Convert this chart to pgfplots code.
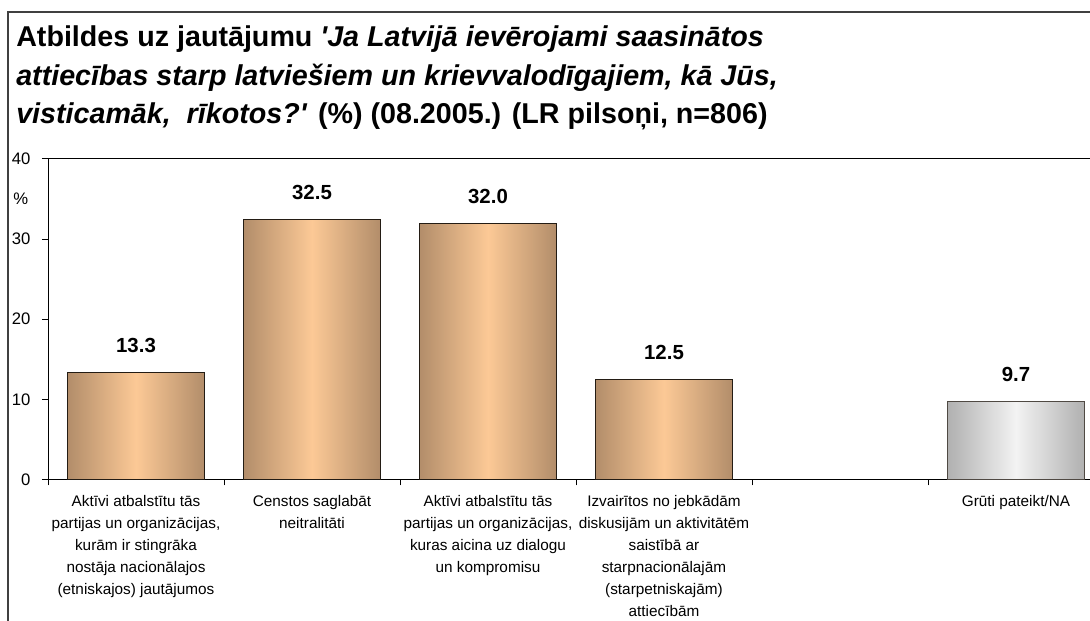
\documentclass[border=0pt]{standalone}
\usepackage{fontspec}
\setmainfont{Liberation Sans}[Ligatures=TeXOff]
\usepackage{pgfplots}
\pgfplotsset{compat=1.18}
\definecolor{tanD}{RGB}{178,141,106}
\definecolor{tanL}{RGB}{252,201,150}
\definecolor{grD}{RGB}{176,176,176}
\definecolor{grL}{RGB}{243,243,243}
\definecolor{frameC}{RGB}{64,64,64}
\definecolor{barEdge}{RGB}{35,28,20}
\tikzset{
    tanbar/.style={bar shift=0pt, draw=barEdge, line width=0.75pt,
        left color=tanD, right color=tanD, middle color=tanL},
    graybar/.style={bar shift=0pt, draw=barEdge!80, line width=0.75pt,
        left color=grD, right color=grD, middle color=grL},
}

\begin{document}
\begin{tikzpicture}
% 1 px of the reference = 0.75pt
\path[use as bounding box] (0,0) rectangle (817.5pt,465.75pt);
\clip (0,0) rectangle (817.5pt,465.75pt);
\fill[white] (0,0) rectangle (817.5pt,465.75pt);

\begin{axis}[
    at={(36pt,106.125pt)}, anchor=south west,
    scale only axis, width=792pt, height=240.375pt,
    xmin=-0.5, xmax=5.5, ymin=0, ymax=40,
    ybar, bar width=0.78,
    axis line style={black, line width=0.75pt},
    tick style={black, line width=0.75pt},
    tick align=outside, major tick length=4.5pt,
    xtick pos=lower, ytick pos=left,
    xtick={-0.5,0.5,1.5,2.5,3.5,4.5,5.5}, xticklabels={},
    extra x ticks={0,1,2,3,4,5},
    extra x tick labels={
        {Aktīvi atbalstītu tās\\partijas un organizācijas,\\kurām ir stingrāka\\nostāja nacionālajos\\(etniskajos) jautājumos},
        {Censtos saglabāt\\neitralitāti},
        {Aktīvi atbalstītu tās\\partijas un organizācijas,\\kuras aicina uz dialogu\\un kompromisu},
        {Izvairītos no jebkādām\\diskusijām un aktivitātēm\\saistībā ar\\starpnacionālajām\\(starpetniskajām)\\attiecībām},
        {},
        {Grūti pateikt/NA}},
    extra x tick style={major tick length=0pt,
        tick label style={anchor=north, inner sep=0pt, yshift=-12pt, align=center,
            font=\fontsize{11.5}{16.4}\selectfont}},
    ytick={0,10,20,30,40},
    yticklabel style={font=\fontsize{12.5}{14}\selectfont, anchor=east, inner sep=0pt, xshift=-8.5pt},
    /pgf/number format/assume math mode=true,
    nodes near coords={\pgfmathprintnumber[fixed,fixed zerofill,precision=1]{\pgfplotspointmeta}},
    every node near coord/.append style={anchor=base, inner sep=0pt, yshift=15pt,
        font=\bfseries\fontsize{15.3}{18}\selectfont, black},
]
\addplot[tanbar] coordinates {(0,13.3)};
\addplot[tanbar] coordinates {(1,32.5)};
\addplot[tanbar] coordinates {(2,32.0)};
\addplot[tanbar] coordinates {(3,12.5)};
\addplot[graybar] coordinates {(5,9.7)};
\end{axis}

\node[anchor=base west, inner sep=0pt, font=\fontsize{12.5}{14}\selectfont] at (9.75pt,312pt) {\%};

\begin{scope}[every node/.style={anchor=base west, inner sep=0pt, font=\bfseries\fontsize{21.5}{28}\selectfont}]
\node at (12pt,430.5pt) {Atbildes uz jautājumu \textit{'Ja Latvijā ievērojami saasinātos}};
\node at (12pt,401.25pt) {\textit{attiecības starp latviešiem un krievvalodīgajiem, kā Jūs,}};
\node at (12pt,372.75pt) {\textit{visticamāk,\ \ rīkotos?'} (\%) (08.2005.) (LR pilsoņi, n=806)};
\end{scope}

\draw[frameC, line width=1.5pt] (6pt,-5pt) -- (6pt,456.75pt) -- (830pt,456.75pt);
\end{tikzpicture}
\end{document}
